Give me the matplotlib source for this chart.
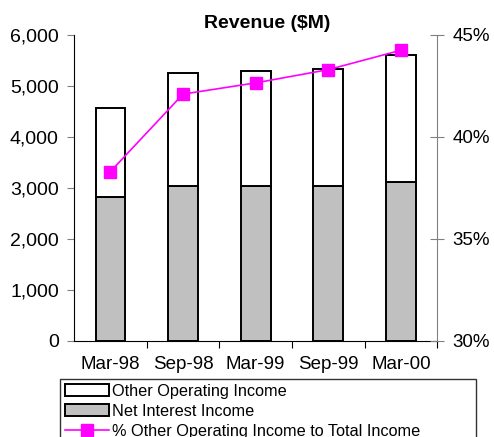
import matplotlib.pyplot as plt
import numpy as np

plt.rcParams['font.family'] = ['Liberation Sans', 'DejaVu Sans']

periods = ['Mar-98', 'Sep-98', 'Mar-99', 'Sep-99', 'Mar-00']
net_interest = [2830, 3040, 3040, 3030, 3120]
other_income = [1740, 2215, 2250, 2300, 2480]
pct_other = [38.3, 42.1, 42.65, 43.3, 44.25]

fig = plt.figure(figsize=(4.94, 4.37), dpi=100)
ax = fig.add_axes([0.150, 0.220, 0.735, 0.700])

x = np.arange(len(periods))
w = 0.41
b1 = ax.bar(x, net_interest, w, color='#c0c0c0', edgecolor='black', linewidth=1.4,
            label='Net Interest Income')
b2 = ax.bar(x, other_income, w, bottom=net_interest, color='white', edgecolor='black',
            linewidth=1.4, label='Other Operating Income')

ax.set_xlim(-0.5, len(periods) - 0.5)
ax.set_ylim(0, 6000)
ax.set_yticks(range(0, 6001, 1000))
ax.set_yticklabels(['{:,}'.format(v) for v in range(0, 6001, 1000)], fontsize=14)
ax.set_xticks(x + 0.5)
ax.set_xticklabels([])
ax.set_xticks(x, minor=True)
ax.set_xticklabels(periods, minor=True, fontsize=13.5)
ax.tick_params(axis='x', which='minor', length=0, pad=11)
ax.tick_params(axis='x', which='major', length=5, direction='out')
ax.tick_params(axis='y', length=5, direction='out', color='#808080', pad=6)
ax.spines['top'].set_visible(False)
ax.spines['right'].set_visible(False)

ax2 = ax.twinx()
l1, = ax2.plot(x, pct_other, color='#ff00ff', lw=1.2, marker='s', markersize=8,
               label='% Other Operating Income to Total Income')
ax2.set_ylim(30, 45)
ax2.set_yticks([30, 35, 40, 45])
ax2.set_yticklabels(['30%', '35%', '40%', '45%'], fontsize=13.5)
ax2.tick_params(axis='y', direction='inout', length=10, color='#808080', pad=6)
ax2.spines['right'].set_color('#808080')
ax2.spines['top'].set_visible(False)
ax2.spines['left'].set_visible(False)
ax2.spines['bottom'].set_visible(False)

fig.text(267 / 494, 1 - 24 / 437, 'Revenue ($M)', ha='center', va='center',
         fontsize=14, fontweight='bold')

leg = fig.legend([b2, b1, l1],
                 ['Other Operating Income', 'Net Interest Income',
                  '% Other Operating Income to Total Income'],
                 loc='upper left', bbox_to_anchor=(0.121, -0.2, 0.842, 0.333),
                 mode='expand', fancybox=False, edgecolor='black', fontsize=11.7,
                 handlelength=2.7, handletextpad=0.2, labelspacing=0.3,
                 borderpad=0.3, borderaxespad=0)
leg.get_frame().set_linewidth(1.0)

fig.savefig('out.png', dpi=100)
